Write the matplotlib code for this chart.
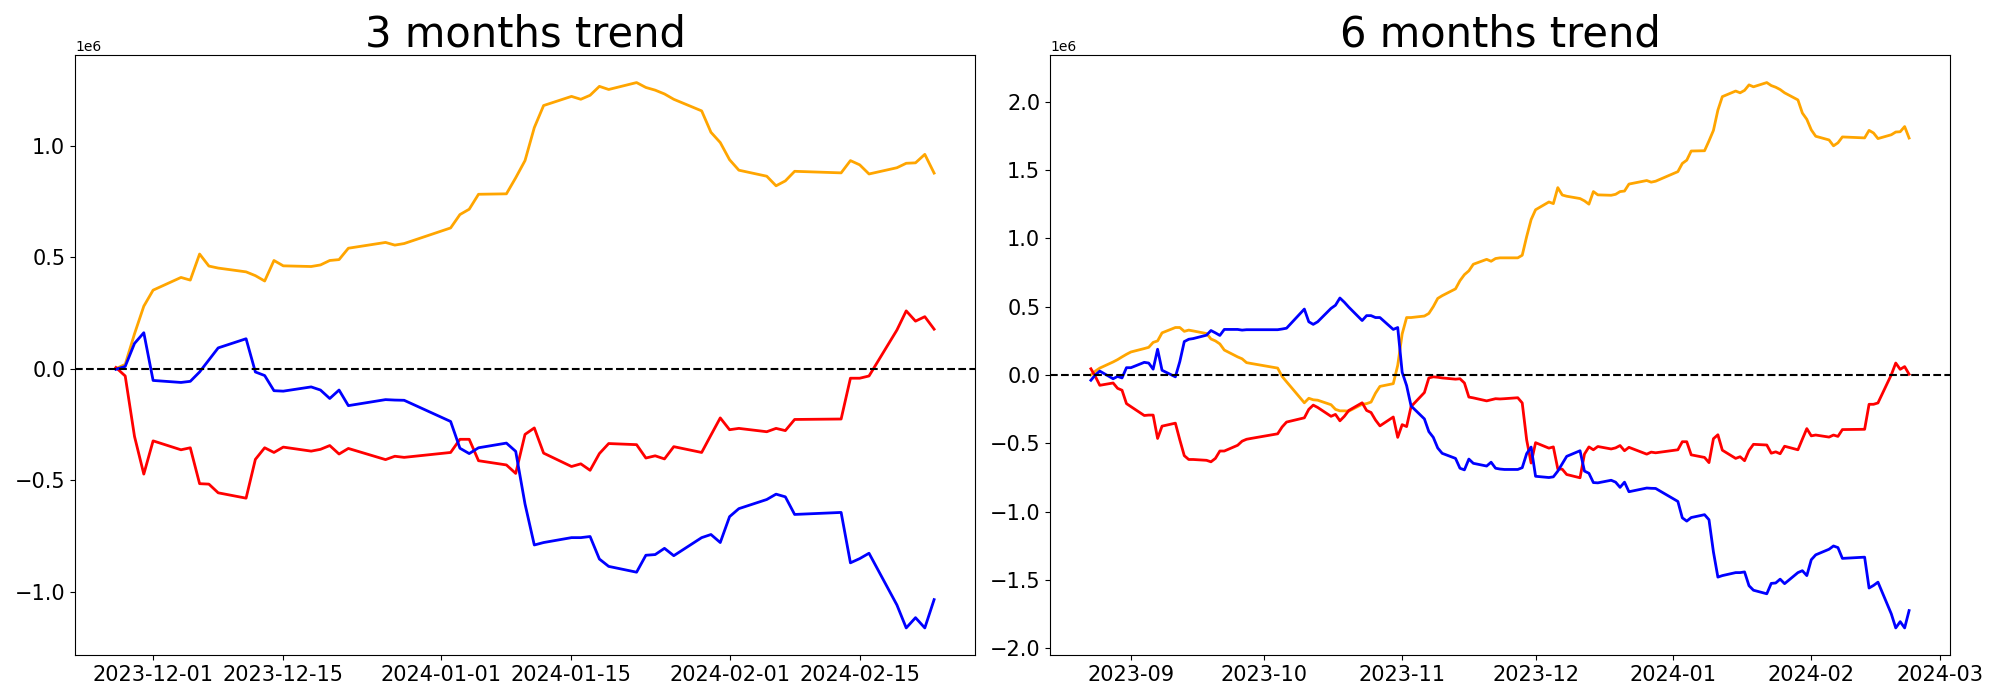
import matplotlib
matplotlib.use("Agg")
import matplotlib.pyplot as plt
import matplotlib.dates as mdates
import pandas as pd

# ---------------- 3 months data ----------------
dates_3m = [
    "2023-11-27", "2023-11-28", "2023-11-29", "2023-11-30", "2023-12-01",
    "2023-12-04", "2023-12-05", "2023-12-06", "2023-12-07", "2023-12-08",
    "2023-12-11", "2023-12-12", "2023-12-13", "2023-12-14", "2023-12-15",
    "2023-12-18", "2023-12-19", "2023-12-20", "2023-12-21", "2023-12-22",
    "2023-12-26", "2023-12-27", "2023-12-28", "2024-01-02", "2024-01-03",
    "2024-01-04", "2024-01-05", "2024-01-08", "2024-01-09", "2024-01-10",
    "2024-01-11", "2024-01-12", "2024-01-15", "2024-01-16", "2024-01-17",
    "2024-01-18", "2024-01-19", "2024-01-22", "2024-01-23", "2024-01-24",
    "2024-01-25", "2024-01-26", "2024-01-29", "2024-01-30", "2024-01-31",
    "2024-02-01", "2024-02-02", "2024-02-05", "2024-02-06", "2024-02-07",
    "2024-02-08", "2024-02-13", "2024-02-14", "2024-02-15", "2024-02-16",
    "2024-02-19", "2024-02-20", "2024-02-21", "2024-02-22", "2024-02-23",
]
orange_3m = [
    0.000, 0.019, 0.156, 0.280, 0.352, 0.409, 0.397, 0.514, 0.460, 0.451,
    0.434, 0.417, 0.393, 0.485, 0.461, 0.458, 0.465, 0.485, 0.489, 0.540,
    0.566, 0.554, 0.561, 0.631, 0.691, 0.715, 0.782, 0.784, 0.856, 0.933,
    1.081, 1.180, 1.221, 1.208, 1.226, 1.266, 1.252, 1.283, 1.261, 1.249,
    1.232, 1.208, 1.156, 1.060, 1.014, 0.937, 0.890, 0.863, 0.820, 0.842,
    0.885, 0.878, 0.933, 0.914, 0.873, 0.901, 0.921, 0.923, 0.961, 0.877,
]
red_3m = [
    0.005, -0.033, -0.304, -0.473, -0.324, -0.364, -0.355, -0.516, -0.518, -0.557,
    -0.581, -0.407, -0.355, -0.376, -0.352, -0.370, -0.362, -0.345, -0.383, -0.358,
    -0.408, -0.393, -0.398, -0.376, -0.317, -0.317, -0.413, -0.432, -0.470, -0.295,
    -0.266, -0.379, -0.439, -0.427, -0.456, -0.381, -0.336, -0.341, -0.401, -0.391,
    -0.405, -0.350, -0.376, -0.298, -0.221, -0.274, -0.268, -0.283, -0.268, -0.278,
    -0.228, -0.226, -0.043, -0.043, -0.033, 0.173, 0.259, 0.213, 0.233, 0.177,
]
blue_3m = [
    -0.003, 0.010, 0.113, 0.161, -0.053, -0.062, -0.057, -0.015, 0.039, 0.093,
    0.134, -0.015, -0.031, -0.099, -0.101, -0.082, -0.096, -0.134, -0.096, -0.166,
    -0.139, -0.141, -0.142, -0.237, -0.357, -0.381, -0.355, -0.334, -0.371, -0.607,
    -0.791, -0.780, -0.758, -0.758, -0.753, -0.854, -0.887, -0.913, -0.837, -0.834,
    -0.806, -0.839, -0.758, -0.744, -0.780, -0.664, -0.628, -0.587, -0.563, -0.575,
    -0.654, -0.645, -0.871, -0.852, -0.828, -1.060, -1.163, -1.117, -1.163, -1.036,
]

# ---------------- 6 months data ----------------
dates_6m = [
    "2023-08-23", "2023-08-24", "2023-08-25", "2023-08-28", "2023-08-29",
    "2023-08-30", "2023-08-31", "2023-09-01", "2023-09-04", "2023-09-05",
    "2023-09-06", "2023-09-07", "2023-09-08", "2023-09-11", "2023-09-12",
    "2023-09-13", "2023-09-14", "2023-09-15", "2023-09-18", "2023-09-19",
    "2023-09-20", "2023-09-21", "2023-09-22", "2023-09-25", "2023-09-26",
    "2023-09-27", "2023-09-28", "2023-10-04", "2023-10-05", "2023-10-06",
    "2023-10-10", "2023-10-11", "2023-10-12", "2023-10-13", "2023-10-16",
    "2023-10-17", "2023-10-18", "2023-10-19", "2023-10-20", "2023-10-23",
    "2023-10-24", "2023-10-25", "2023-10-26", "2023-10-27", "2023-10-30",
    "2023-10-31", "2023-11-01", "2023-11-02", "2023-11-03", "2023-11-06",
    "2023-11-07", "2023-11-08", "2023-11-09", "2023-11-10", "2023-11-13",
    "2023-11-14", "2023-11-15", "2023-11-16", "2023-11-17", "2023-11-20",
    "2023-11-21", "2023-11-22", "2023-11-23", "2023-11-24",
] + dates_3m
orange_6m = [
    0.000, 0.028, 0.050, 0.095, 0.112, 0.132, 0.151, 0.168,
    0.193, 0.202, 0.238, 0.249, 0.308,
    0.347, 0.347, 0.319, 0.328, 0.322,
    0.303, 0.263, 0.249, 0.227, 0.182,
    0.132, 0.118, 0.090, 0.084,
    0.050, -0.011, -0.050,
    -0.204, -0.171, -0.182, -0.185,
    -0.218, -0.252, -0.263, -0.263, -0.265,
    -0.215, -0.210, -0.199, -0.134, -0.084,
    -0.064, 0.070,
    0.300, 0.420, 0.420,
    0.431, 0.450, 0.500, 0.560, 0.580,
    0.630, 0.690, 0.734, 0.762, 0.810,
    0.846, 0.832, 0.852, 0.857, 0.857,
    0.857, 0.876, 1.013, 1.137, 1.209, 1.266, 1.254, 1.371, 1.317, 1.308,
    1.291, 1.274, 1.250, 1.342, 1.318, 1.315, 1.322, 1.342, 1.346, 1.397,
    1.423, 1.411, 1.418, 1.488, 1.548, 1.572, 1.639, 1.641, 1.713, 1.790,
    1.938, 2.037, 2.078, 2.065, 2.083, 2.123, 2.109, 2.140, 2.118, 2.106,
    2.089, 2.065, 2.013, 1.917, 1.871, 1.794, 1.747, 1.720, 1.677, 1.699,
    1.742, 1.735, 1.790, 1.771, 1.730, 1.758, 1.778, 1.780, 1.818, 1.734,
]
red_6m = [
    0.045, -0.011, -0.076, -0.059, -0.098, -0.112, -0.210, -0.232,
    -0.297, -0.294, -0.294, -0.465, -0.375,
    -0.353, -0.476, -0.591, -0.619, -0.619,
    -0.625, -0.636, -0.611, -0.557, -0.557,
    -0.515, -0.485, -0.471, -0.465,
    -0.431, -0.381, -0.345,
    -0.314, -0.252, -0.221, -0.238,
    -0.303, -0.289, -0.336, -0.303, -0.260,
    -0.204, -0.260, -0.275, -0.330, -0.373,
    -0.308, -0.457,
    -0.364, -0.378, -0.232,
    -0.129, -0.022, -0.014, -0.017, -0.022,
    -0.031, -0.028, -0.059, -0.162, -0.168,
    -0.190, -0.182, -0.174, -0.176, -0.174,
    -0.167, -0.205, -0.476, -0.645, -0.496, -0.536, -0.527, -0.688, -0.690, -0.729,
    -0.753, -0.579, -0.527, -0.548, -0.524, -0.542, -0.534, -0.517, -0.555, -0.530,
    -0.580, -0.565, -0.570, -0.548, -0.489, -0.489, -0.585, -0.604, -0.642, -0.467,
    -0.438, -0.551, -0.611, -0.599, -0.628, -0.553, -0.508, -0.513, -0.573, -0.563,
    -0.577, -0.522, -0.548, -0.470, -0.393, -0.446, -0.440, -0.455, -0.440, -0.450,
    -0.400, -0.398, -0.215, -0.215, -0.205, 0.001, 0.087, 0.041, 0.061, 0.005,
]
blue_6m = [
    -0.039, 0.000, 0.028, -0.028, -0.011, -0.022, 0.053, 0.053,
    0.092, 0.087, 0.042, 0.188, 0.034,
    -0.014, 0.098, 0.244, 0.261, 0.266,
    0.291, 0.325, 0.308, 0.289, 0.333,
    0.333, 0.328, 0.331, 0.331,
    0.331, 0.336, 0.342,
    0.482, 0.389, 0.370, 0.389,
    0.487, 0.510, 0.563, 0.532, 0.496,
    0.398, 0.434, 0.434, 0.420, 0.420,
    0.333, 0.347,
    0.020, -0.078, -0.227,
    -0.322, -0.415, -0.457, -0.535, -0.574,
    -0.611, -0.683, -0.695, -0.616, -0.647,
    -0.667, -0.639, -0.683, -0.689, -0.692,
    -0.692, -0.679, -0.576, -0.528, -0.742, -0.751, -0.746, -0.704, -0.650, -0.596,
    -0.555, -0.704, -0.720, -0.788, -0.790, -0.771, -0.785, -0.823, -0.785, -0.855,
    -0.828, -0.830, -0.831, -0.926, -1.046, -1.070, -1.044, -1.023, -1.060, -1.296,
    -1.480, -1.469, -1.447, -1.447, -1.442, -1.543, -1.576, -1.602, -1.526, -1.523,
    -1.495, -1.528, -1.447, -1.433, -1.469, -1.353, -1.317, -1.276, -1.252, -1.264,
    -1.343, -1.334, -1.560, -1.541, -1.517, -1.749, -1.852, -1.806, -1.852, -1.725,
]

titles = ["3 months trend", "6 months trend"]
SCALE = 1e6

fig, axes = plt.subplots(1, 2, figsize=(20, 7), dpi=100)
fig.subplots_adjust(left=0.0375, right=0.975, bottom=0.064, top=0.921, wspace=0.0833)

panels = [
    (dates_3m, orange_3m, red_3m, blue_3m),
    (dates_6m, orange_6m, red_6m, blue_6m),
]
for ax, (d, o, r, b), title in zip(axes, panels, titles):
    x = pd.to_datetime(d)
    ax.plot(x, [v * SCALE for v in o], color="orange", linewidth=2)
    ax.plot(x, [v * SCALE for v in r], color="red", linewidth=2)
    ax.plot(x, [v * SCALE for v in b], color="blue", linewidth=2)
    ax.axhline(0, color="black", linestyle="--", linewidth=1.5)
    ax.set_title(title, fontsize=30)
    ax.tick_params(axis="both", labelsize=15)

axes[0].xaxis.set_major_locator(mdates.DayLocator(bymonthday=[1, 15]))
axes[0].xaxis.set_major_formatter(mdates.DateFormatter("%Y-%m-%d"))
axes[1].xaxis.set_major_locator(mdates.MonthLocator())
axes[1].xaxis.set_major_formatter(mdates.DateFormatter("%Y-%m"))

fig.savefig("out.png", dpi=100)
